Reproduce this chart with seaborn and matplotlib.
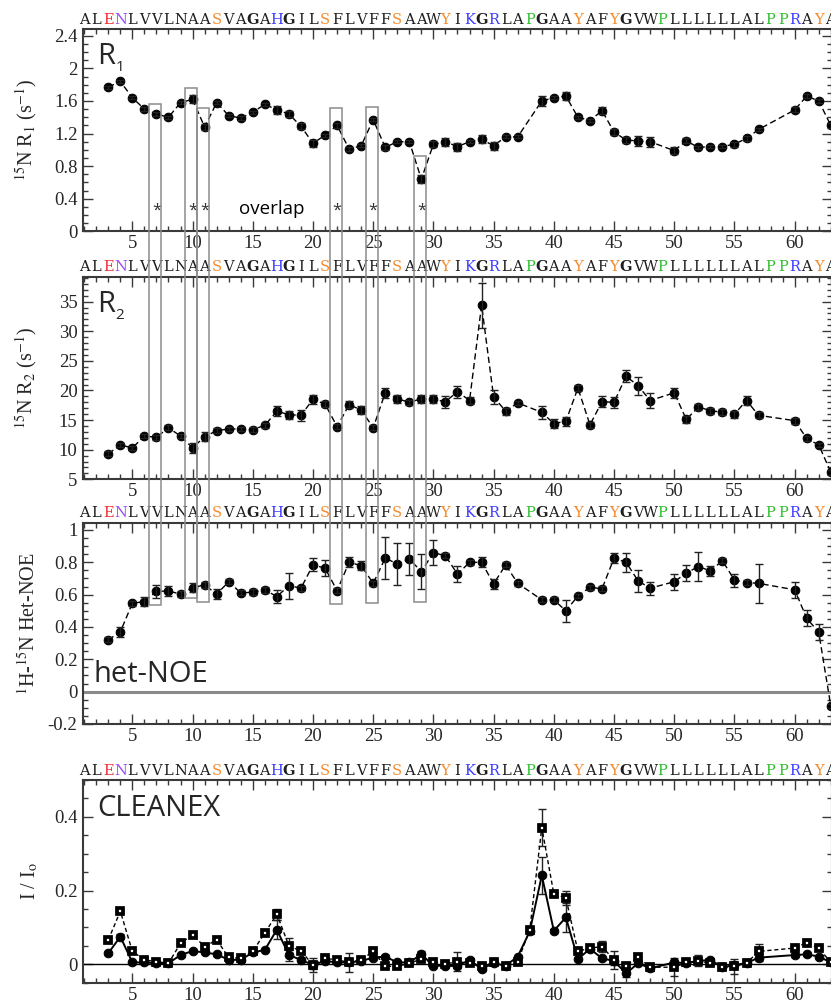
import numpy as np
import pandas as pd
import matplotlib
matplotlib.use("Agg")
import matplotlib.pyplot as plt
from matplotlib.patches import Rectangle
from matplotlib.ticker import MultipleLocator
import seaborn as sns

# ---------------- data ----------------
sequence = "ALENLVVLNAASVAGAHGILSFLVFFSAAWYIKGRLAPGAAYAFYGVWPLLLLLLALPPRAYA"
letter_colors = {3: "#ee2b33", 4: "#9a4dff", 12: "#f58a2c", 17: "#3b3bff",
                 21: "#f58a2c", 27: "#f58a2c", 31: "#f58a2c", 33: "#3b3bff",
                 35: "#3b3bff", 38: "#2fbf2f", 42: "#f58a2c", 45: "#f58a2c",
                 49: "#2fbf2f", 58: "#2fbf2f", 59: "#2fbf2f", 60: "#3b3bff",
                 62: "#f58a2c"}
bold_letters = [15, 18, 34, 39, 46]

residues = [3, 4, 5, 6, 7, 8, 9, 10, 11, 12, 13, 14, 15, 16, 17, 18, 19, 20,
            21, 22, 23, 24, 25, 26, 27, 28, 29, 30, 31, 32, 33, 34, 35, 36, 37,
            39, 40, 41, 42, 43, 44, 45, 46, 47, 48, 50, 51, 52, 53, 54, 55, 56,
            57, 60, 61, 62, 63]

r1 = [1.77, 1.84, 1.64, 1.50, 1.44, 1.40, 1.58, 1.62, 1.28, 1.58, 1.42, 1.39,
      1.46, 1.56, 1.49, 1.44, 1.29, 1.08, 1.18, 1.30, 1.01, 1.05, 1.37, 1.03,
      1.10, 1.10, 0.64, 1.07, 1.10, 1.04, 1.10, 1.13, 1.05, 1.16, 1.16,
      1.60, 1.64, 1.66, 1.40, 1.36, 1.48, 1.22, 1.12, 1.11, 1.10, 0.99, 1.11,
      1.03, 1.04, 1.04, 1.07, 1.14, 1.25, 1.49, 1.66, 1.60, 1.30]
r1_err = [0.02, 0.02, 0.02, 0.02, 0.02, 0.02, 0.02, 0.05, 0.04, 0.02, 0.02, 0.02,
          0.02, 0.02, 0.05, 0.04, 0.04, 0.04, 0.02, 0.03, 0.02, 0.02, 0.02, 0.03,
          0.02, 0.02, 0.05, 0.04, 0.05, 0.05, 0.02, 0.05, 0.05, 0.02, 0.02,
          0.06, 0.02, 0.05, 0.02, 0.02, 0.04, 0.04, 0.04, 0.06, 0.06, 0.04, 0.03,
          0.02, 0.02, 0.02, 0.03, 0.03, 0.02, 0.03, 0.02, 0.02, 0.03]

r2 = [9.3, 10.8, 10.3, 12.3, 12.1, 13.7, 12.3, 10.3, 12.2, 13.2, 13.5, 13.5,
      13.4, 14.1, 16.5, 15.9, 15.8, 18.5, 17.7, 13.9, 17.6, 16.7, 13.7, 19.6,
      18.6, 18.0, 18.6, 18.5, 18.1, 19.8, 18.3, 34.4, 18.9, 16.5, 17.9,
      16.3, 14.4, 14.8, 20.4, 14.2, 18.1, 18.0, 22.4, 20.8, 18.3, 19.6, 15.1,
      17.2, 16.6, 16.3, 16.0, 18.3, 15.8, 14.9, 11.9, 10.8, 6.2]
r2_err = [0.4, 0.4, 0.4, 0.4, 0.4, 0.4, 0.4, 0.8, 0.8, 0.4, 0.4, 0.4,
          0.4, 0.4, 0.8, 0.7, 0.9, 0.8, 0.5, 0.4, 0.6, 0.6, 0.4, 0.8,
          0.7, 0.4, 0.7, 0.7, 1.0, 1.0, 0.6, 3.8, 1.2, 0.6, 0.4,
          1.1, 0.8, 0.8, 0.5, 0.5, 0.9, 0.9, 1.0, 1.5, 1.3, 0.8, 0.6,
          0.5, 0.5, 0.5, 0.6, 0.7, 0.5, 0.5, 0.4, 0.4, 0.4]

noe = [0.32, 0.37, 0.547, 0.557, 0.62, 0.623, 0.603, 0.644, 0.66, 0.603, 0.68,
       0.611, 0.615, 0.63, 0.588, 0.656, 0.64, 0.784, 0.764, 0.625, 0.80, 0.78,
       0.67, 0.826, 0.79, 0.82, 0.743, 0.86, 0.84, 0.727, 0.80, 0.80, 0.667,
       0.784, 0.67, 0.568, 0.568, 0.50, 0.592, 0.646, 0.636, 0.826, 0.80,
       0.685, 0.64, 0.68, 0.733, 0.774, 0.747, 0.81, 0.69, 0.675, 0.67, 0.63,
       0.454, 0.367, -0.089]
noe_err = [0.015, 0.03, 0.015, 0.03, 0.04, 0.03, 0.02, 0.03, 0.02, 0.03, 0.015,
           0.015, 0.02, 0.02, 0.04, 0.08, 0.015, 0.04, 0.05, 0.015, 0.03, 0.03,
           0.015, 0.13, 0.13, 0.10, 0.11, 0.075, 0.015, 0.05, 0.015, 0.03, 0.03,
           0.015, 0.015, 0.015, 0.015, 0.07, 0.015, 0.015, 0.015, 0.03, 0.06,
           0.07, 0.04, 0.05, 0.05, 0.09, 0.03, 0.015, 0.04, 0.015, 0.12, 0.05,
           0.05, 0.05, 0.015]

cx_residues = [3, 4, 5, 6, 7, 8, 9, 10, 11, 12, 13, 14, 15, 16, 17, 18, 19, 20,
               21, 22, 23, 24, 25, 26, 27, 28, 29, 30, 31, 32, 33, 34, 35, 36,
               37, 38, 39, 40, 41, 42, 43, 44, 45, 46, 47, 48, 50, 51, 52, 53,
               54, 55, 56, 57, 60, 61, 62, 63]
cx_circles = [0.030, 0.075, 0.005, 0.005, 0.003, 0.003, 0.025, 0.036, 0.032,
              0.027, 0.012, 0.012, 0.032, 0.039, 0.094, 0.025, 0.012, -0.002,
              0.009, 0.005, 0.005, 0.009, 0.018, 0.021, 0.005, 0.005, 0.027,
              -0.004, -0.004, -0.005, 0.012, -0.013, 0.003, -0.004, 0.021,
              0.089, 0.241, 0.091, 0.127, 0.014, 0.042, 0.016, 0.009, -0.025,
              0.003, -0.011, 0.005, 0.003, 0.009, 0.012, -0.008, -0.002, 0.003,
              0.018, 0.025, 0.027, 0.021, 0.005]
cx_circles_err = [0.004, 0.006, 0.004, 0.004, 0.004, 0.004, 0.004, 0.004, 0.004,
                  0.004, 0.004, 0.004, 0.004, 0.004, 0.025, 0.015, 0.004, 0.010,
                  0.004, 0.004, 0.004, 0.004, 0.004, 0.004, 0.004, 0.004, 0.010,
                  0.004, 0.004, 0.004, 0.004, 0.006, 0.004, 0.004, 0.004,
                  0.006, 0.050, 0.006, 0.040, 0.004, 0.004, 0.004, 0.010, 0.010,
                  0.004, 0.006, 0.006, 0.004, 0.004, 0.004, 0.004, 0.004, 0.004,
                  0.010, 0.004, 0.004, 0.004, 0.004]
cx_squares = [0.066, 0.144, 0.035, 0.012, 0.007, 0.003, 0.057, 0.080, 0.048,
              0.066, 0.019, 0.016, 0.035, 0.085, 0.136, 0.050, 0.036, -0.002,
              0.016, 0.012, 0.005, 0.012, 0.035, -0.005, -0.006, 0.003, 0.014,
              0.005, 0.001, 0.007, 0.003, -0.006, 0.005, -0.006, 0.007,
              0.094, 0.371, 0.191, 0.180, 0.035, 0.044, 0.048, 0.012, -0.004,
              0.019, -0.008, -0.008, 0.005, 0.009, 0.003, -0.008, -0.006,
              0.003, 0.035, 0.044, 0.059, 0.044, 0.005]
cx_squares_err = [0.004, 0.004, 0.004, 0.004, 0.004, 0.004, 0.004, 0.004, 0.004,
                  0.004, 0.004, 0.004, 0.004, 0.004, 0.015, 0.020, 0.004, 0.020,
                  0.004, 0.004, 0.025, 0.004, 0.004, 0.004, 0.004, 0.004, 0.004,
                  0.004, 0.004, 0.025, 0.004, 0.004, 0.004, 0.004, 0.004,
                  0.006, 0.050, 0.006, 0.020, 0.004, 0.004, 0.015, 0.025, 0.004,
                  0.004, 0.004, 0.025, 0.004, 0.015, 0.004, 0.004, 0.020,
                  0.004, 0.020, 0.004, 0.004, 0.004, 0.004]

# overlapping residues, marked by boxes spanning R1 down to het-NOE
overlap_res = [7, 10, 11, 22, 25, 29]
box_top_r1 = [1.56, 1.755, 1.51, 1.51, 1.53, 0.92]
box_bottom_noe = [0.537, 0.578, 0.557, 0.543, 0.551, 0.553]

# ---------------- style ----------------
sns.set_theme(style="ticks")
plt.rcParams["font.family"] = ["Liberation Serif", "DejaVu Serif"]
plt.rcParams["mathtext.fontset"] = "stix"
plt.rcParams["axes.edgecolor"] = "#3a3a3a"
plt.rcParams["axes.linewidth"] = 1.5

W, H = 831, 1002
fig = plt.figure(figsize=(W / 100, H / 100), dpi=100)
fig.patch.set_facecolor("white")


def add_panel(top_px, bottom_px):
    left_px, right_px = 83, 832
    return fig.add_axes([left_px / W, 1 - bottom_px / H,
                         (right_px - left_px) / W, (bottom_px - top_px) / H])


ax1 = add_panel(29.3, 231.3)
ax2 = add_panel(276.7, 479.3)
ax3 = add_panel(522.7, 724.0)
ax4 = add_panel(780.0, 982.7)
axes = [ax1, ax2, ax3, ax4]

line_kw = dict(color="black", linewidth=1.0, linestyle=(0, (4.5, 2.5)),
               marker="o", markersize=6.2, markeredgecolor="black",
               markerfacecolor="black", sort=False, errorbar=None)
err_kw = dict(fmt="none", ecolor="#222222", elinewidth=1.0, capsize=3.2,
              capthick=1.0)

df_main = pd.DataFrame({"residue": residues, "R1": r1, "R2": r2, "NOE": noe})

sns.lineplot(data=df_main, x="residue", y="R1", ax=ax1, **line_kw)
ax1.errorbar(residues, r1, yerr=r1_err, **err_kw)
sns.lineplot(data=df_main, x="residue", y="R2", ax=ax2, **line_kw)
ax2.errorbar(residues, r2, yerr=r2_err, **err_kw)
ax3.axhline(0, color="#8a8a8a", linewidth=2.2, zorder=1)
sns.lineplot(data=df_main, x="residue", y="NOE", ax=ax3, **line_kw)
ax3.errorbar(residues, noe, yerr=noe_err, **err_kw)

df_cx = pd.DataFrame({"residue": cx_residues, "circ": cx_circles,
                      "sq": cx_squares})
ax4.axhline(0, color="black", linewidth=1.0, zorder=1)
ax4.errorbar(cx_residues, cx_circles, yerr=cx_circles_err, **err_kw)
ax4.errorbar(cx_residues, cx_squares, yerr=cx_squares_err, **err_kw)
sns.lineplot(data=df_cx, x="residue", y="circ", ax=ax4, color="black",
             linewidth=1.4, linestyle="-", marker="o", markersize=6.2,
             markeredgecolor="black", markerfacecolor="black", sort=False,
             errorbar=None)
sns.lineplot(data=df_cx, x="residue", y="sq", ax=ax4, color="black",
             linewidth=1.0, linestyle=(0, (3, 2)), marker="s", markersize=4.8,
             markeredgecolor="black", markerfacecolor="white",
             markeredgewidth=2.7, sort=False, errorbar=None)

# axis limits and ticks
ylims = [(0, 2.48), (5, 39.2), (-0.2, 1.045), (-0.05, 0.5)]
ymaj = [0.4, 5, 0.2, 0.2]
ymin = [0.1, 1, 0.05, 0.05]
ylabels = [r"$^{15}$N R$_1$ (s$^{-1}$)", r"$^{15}$N R$_2$ (s$^{-1}$)",
           r"$^{1}$H-$^{15}$N Het-NOE", r"I / I$_{\mathrm{o}}$"]
for ax, yl, ma, mi, lab in zip(axes, ylims, ymaj, ymin, ylabels):
    ax.set_xlim(0.9, 63.1)
    ax.set_ylim(*yl)
    ax.xaxis.set_major_locator(MultipleLocator(5))
    ax.xaxis.set_minor_locator(MultipleLocator(1))
    ax.yaxis.set_major_locator(MultipleLocator(ma))
    ax.yaxis.set_minor_locator(MultipleLocator(mi))
    ax.tick_params(which="both", direction="in", top=True, right=True,
                   color="#3a3a3a", width=1.0, labelsize=13.5, pad=4)
    ax.tick_params(axis="x", pad=3)
    ax.tick_params(which="major", length=7)
    ax.tick_params(which="minor", length=3.5)
    ax.set_xlabel("")
    ax.set_ylabel(lab, fontsize=14.5)
    ax.yaxis.set_label_coords(-0.057, 0.5)
    ax.set_facecolor("none")
    for lbl in ax.get_xticklabels() + ax.get_yticklabels():
        lbl.set_fontfamily(["Liberation Serif"])

ax1.yaxis.set_major_formatter(plt.FuncFormatter(lambda v, p: f"{v:g}"))
ax3.yaxis.set_major_formatter(plt.FuncFormatter(lambda v, p: f"{v:g}"))
ax4.yaxis.set_major_formatter(plt.FuncFormatter(lambda v, p: f"{v:g}"))
ax4.set_yticks([0, 0.2, 0.4])

# amino-acid sequence along the top of every panel
for ax in axes:
    for i, aa in enumerate(sequence, start=1):
        ax.text(i, 1.012, aa, transform=ax.get_xaxis_transform(),
                ha="center", va="bottom", fontsize=10.5,
                family=["DejaVu Serif"],
                color=letter_colors.get(i, "#1e1e1e"),
                fontweight="bold" if i in bold_letters else "normal")

# panel names
sans = ["Open Sans", "DejaVu Sans"]
for ax, sub in ((ax1, "1"), (ax2, "2")):
    ax.text(0.019, 0.935, "R", transform=ax.transAxes, ha="left", va="top",
            fontsize=21, family=sans)
    ax.text(0.043, 0.772, sub, transform=ax.transAxes, ha="left",
            va="bottom", fontsize=11, family=sans)
ax3.text(0.014, 0.21, "het-NOE", transform=ax3.transAxes, ha="left",
         va="baseline", fontsize=21, family=sans)
ax4.text(0.019, 0.93, "CLEANEX", transform=ax4.transAxes, ha="left",
         va="top", fontsize=21, family=sans)

# overlap annotation
for r in overlap_res:
    ax1.text(r, 0.255, "*", ha="center", va="center", fontsize=12,
             family=sans, color="#333333")
ax1.text(16.6, 0.27, "overlap", ha="center", va="center", fontsize=13.5,
         family=sans, color="black")

# boxes that run from the R1 panel down to the het-NOE panel
inv = fig.transFigure.inverted()
for r, top, bot in zip(overlap_res, box_top_r1, box_bottom_noe):
    x0, y_top = inv.transform(ax1.transData.transform((r - 0.6, top)))
    x1, y_bot = inv.transform(ax3.transData.transform((r + 0.37, bot)))
    fig.add_artist(Rectangle((x0, y_bot), x1 - x0, y_top - y_bot,
                             transform=fig.transFigure, fill=False,
                             edgecolor="#8c8c8c", linewidth=1.1, zorder=5))

fig.savefig("out.png", dpi=100, facecolor="white")
